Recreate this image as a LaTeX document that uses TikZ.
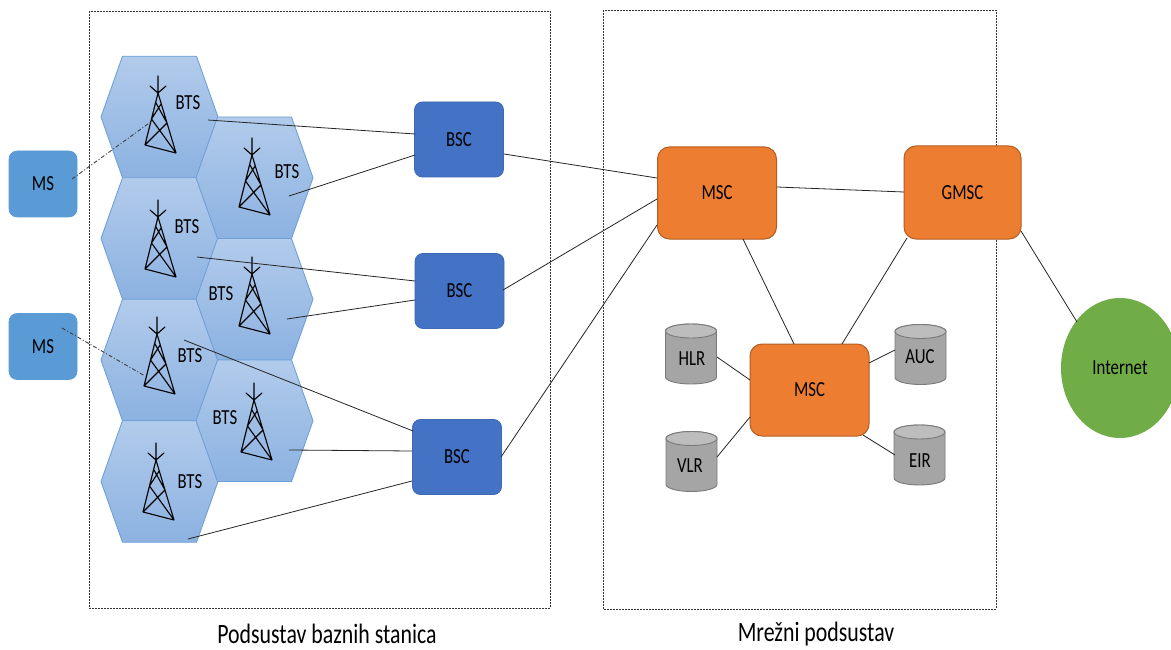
\documentclass[tikz,border=0pt]{standalone}
\usepackage{fontspec}
\setmainfont[FakeStretch=0.78]{Carlito}
\usetikzlibrary{shapes.geometric}
\definecolor{hexline}{HTML}{6EA1D8}
\definecolor{hextop}{HTML}{B2CBEB}
\definecolor{hexbot}{HTML}{8CB2E1}
\definecolor{bscfill}{HTML}{4472C4}
\definecolor{bscline}{HTML}{3F68B5}
\definecolor{msfill}{HTML}{5B9BD5}
\definecolor{mscfill}{HTML}{ED7D31}
\definecolor{mscline}{HTML}{B35D22}
\definecolor{netfill}{HTML}{70AD47}
\definecolor{cylfill}{HTML}{A5A5A5}
\definecolor{cyltop}{HTML}{BDBDBD}
\definecolor{cylline}{HTML}{7A7A7A}
\newcommand\lbl{\fontsize{21.5}{21.5}\selectfont}
\newcommand\biglbl{\fontsize{28}{28}\selectfont}
\begin{document}
\begin{tikzpicture}[x=1pt,y=-1pt,
  lab/.style={font=\lbl, inner sep=0pt},
  box/.style={rectangle, rounded corners=8pt, inner sep=0pt, font=\lbl},
  bscbox/.style={box, fill=bscfill, draw=bscline, line width=0.8pt, minimum width=89pt, minimum height=75pt},
  msbox/.style={box, fill=msfill, draw=msfill, line width=0.6pt, minimum width=68pt, minimum height=66pt},
  mscbox/.style={box, rounded corners=12pt, fill=mscfill, draw=mscline, line width=1pt, minimum width=119pt, minimum height=92pt},
  conn/.style={draw=black!85, line width=0.8pt},
  radio/.style={draw=black!75, line width=0.9pt, dash pattern=on 4pt off 2pt on 1pt off 2pt},
  frame/.style={draw=black!80, line width=0.7pt, dash pattern=on 2pt off 1pt},
  hexcell/.pic={\path[draw=hexline, line width=0.9pt, top color=hextop, bottom color=hexbot]
     (-58.5,0) -- (-37,-60.75) -- (37,-60.75) -- (58.5,0) -- (37,60.75) -- (-37,60.75) -- cycle;},
  mast/.pic={\draw[black, line width=1.1pt, line join=round, line cap=round]
     (0,-17) -- (0,0) (-8,-7) -- (0,0) -- (8,-7)
     (0,0) -- (-13,52) -- (18,60) -- cycle
     (-2.34,9.36) -- (9,30) (3.24,10.8) -- (-6.5,26)
     (-6.5,26) -- (18,60) (9,30) -- (-13,52);},
  cyl/.pic={\path[fill=cylfill, draw=cylline, line width=0.9pt]
     (-25.5,-23) -- (-25.5,23) arc[start angle=180, end angle=0, x radius=25.5, y radius=7]
     -- (25.5,-23) arc[start angle=0, end angle=-180, x radius=25.5, y radius=7] -- cycle;
     \path[fill=cyltop, draw=cylline, line width=0.9pt] (0,-23) ellipse[x radius=25.5, y radius=7];}
]
\useasboundingbox (0,0) rectangle (1171,650);
\fill[white] (0,0) rectangle (1171,650);

% subsystem frames
\path[frame] (89,11) rectangle (550,608);
\path[frame] (603,10) rectangle (996,609);
\node[font=\biglbl, inner sep=0pt] (lblbss) at (327,634) {Podsustav baznih stanica};
\node[font=\biglbl, inner sep=0pt] (lblnss) at (816,634) {Mrežni podsustav};

% cells
\pic at (159.5,117) {hexcell};
\pic at (159.5,238.5) {hexcell};
\pic at (159.5,360) {hexcell};
\pic at (159.5,481.5) {hexcell};
\pic at (254.5,177.75) {hexcell};
\pic at (254.5,299.25) {hexcell};
\pic at (254.5,420.75) {hexcell};

% masts
\pic at (158,93) {mast};
\pic at (252,155) {mast};
\pic at (158,217) {mast};
\pic at (252,274) {mast};
\pic at (157,334) {mast};
\pic at (254,400) {mast};
\pic at (156,460) {mast};

% BTS labels
\node[lab] (bts1) at (188,103) {BTS};
\node[lab] (bts2) at (287,172) {BTS};
\node[lab] (bts3) at (187,227) {BTS};
\node[lab] (bts4) at (221,294) {BTS};
\node[lab] (bts5) at (190,356) {BTS};
\node[lab] (bts6) at (225,418) {BTS};
\node[lab] (bts7) at (190,482) {BTS};

% mobile stations
\node[msbox] (ms1) at (43,184) {MS};
\node[msbox] (ms2) at (43,346.5) {MS};

% BSCs
\node[bscbox] (bsc1) at (459,139.5) {BSC};
\node[bscbox] (bsc2) at (459.5,291) {BSC};
\node[bscbox] (bsc3) at (457,457) {BSC};

% MSCs
\node[mscbox] (msc1) at (717,193) {MSC};
\node[mscbox, minimum width=117pt, minimum height=93pt] (gmsc) at (962.5,192.5) {GMSC};
\node[mscbox] (msc2) at (809.5,390) {MSC};

% Internet
\node[ellipse, fill=netfill, minimum width=118pt, minimum height=140pt, inner sep=0pt, font=\lbl] (net) at (1120,368) {Internet};

% databases
\pic at (691,354) {cyl};
\pic at (691.5,461.5) {cyl};
\pic at (920.5,354.5) {cyl};
\pic at (919.5,455) {cyl};
\node[lab] (hlr) at (692,359) {HLR};
\node[lab] (vlr) at (690,466) {VLR};
\node[lab] (auc) at (920,357) {AUC};
\node[lab] (eir) at (920,461) {EIR};

% connection end points
\coordinate (p1) at (208,120);  \coordinate (q1) at (415,134);
\coordinate (p2) at (289,196);  \coordinate (q2) at (415,155);
\coordinate (p3) at (197,257);  \coordinate (q3) at (415,281);
\coordinate (p4) at (287,319);  \coordinate (q4) at (415,300);
\coordinate (p5) at (184,340);  \coordinate (q5) at (413,431);
\coordinate (p6) at (289,450);  \coordinate (q6) at (412,451);
\coordinate (p7) at (188,539);  \coordinate (q7) at (412,481);
\coordinate (b1o) at (504,154); \coordinate (m1a) at (657,178);
\coordinate (b2o) at (503,290); \coordinate (m1b) at (657,199);
\coordinate (b3o) at (501,457); \coordinate (m1c) at (657,225);
\coordinate (m1e) at (777,187); \coordinate (gw) at (904,192);
\coordinate (m1s) at (743,239); \coordinate (m2n) at (794,344);
\coordinate (gsw) at (907,238); \coordinate (m2ne) at (842,344);
\coordinate (gse) at (1021,231); \coordinate (netnw) at (1077,322);
\coordinate (hlre) at (717,357); \coordinate (m2w1) at (750,380);
\coordinate (vlre) at (717,457); \coordinate (m2w2) at (750,417);
\coordinate (aucw) at (895,350); \coordinate (m2e1) at (869,363);
\coordinate (eirw) at (895,455); \coordinate (m2e2) at (863,435);
\coordinate (ms1o) at (72,179);  \coordinate (t1) at (152,121);
\coordinate (ms2o) at (62,328);  \coordinate (t5) at (145,376);

% connectors
\path[conn] (p1) -- (q1) (p2) -- (q2) (p3) -- (q3) (p4) -- (q4)
            (p5) -- (q5) (p6) -- (q6) (p7) -- (q7);
\path[conn] (b1o) -- (m1a) (b2o) -- (m1b) (b3o) -- (m1c);
\path[conn] (m1e) -- (gw) (m1s) -- (m2n) (gsw) -- (m2ne) (gse) -- (netnw);
\path[conn] (hlre) -- (m2w1) (vlre) -- (m2w2) (aucw) -- (m2e1) (eirw) -- (m2e2);
\path[radio] (ms1o) -- (t1) (ms2o) -- (t5);
\end{tikzpicture}
\end{document}
